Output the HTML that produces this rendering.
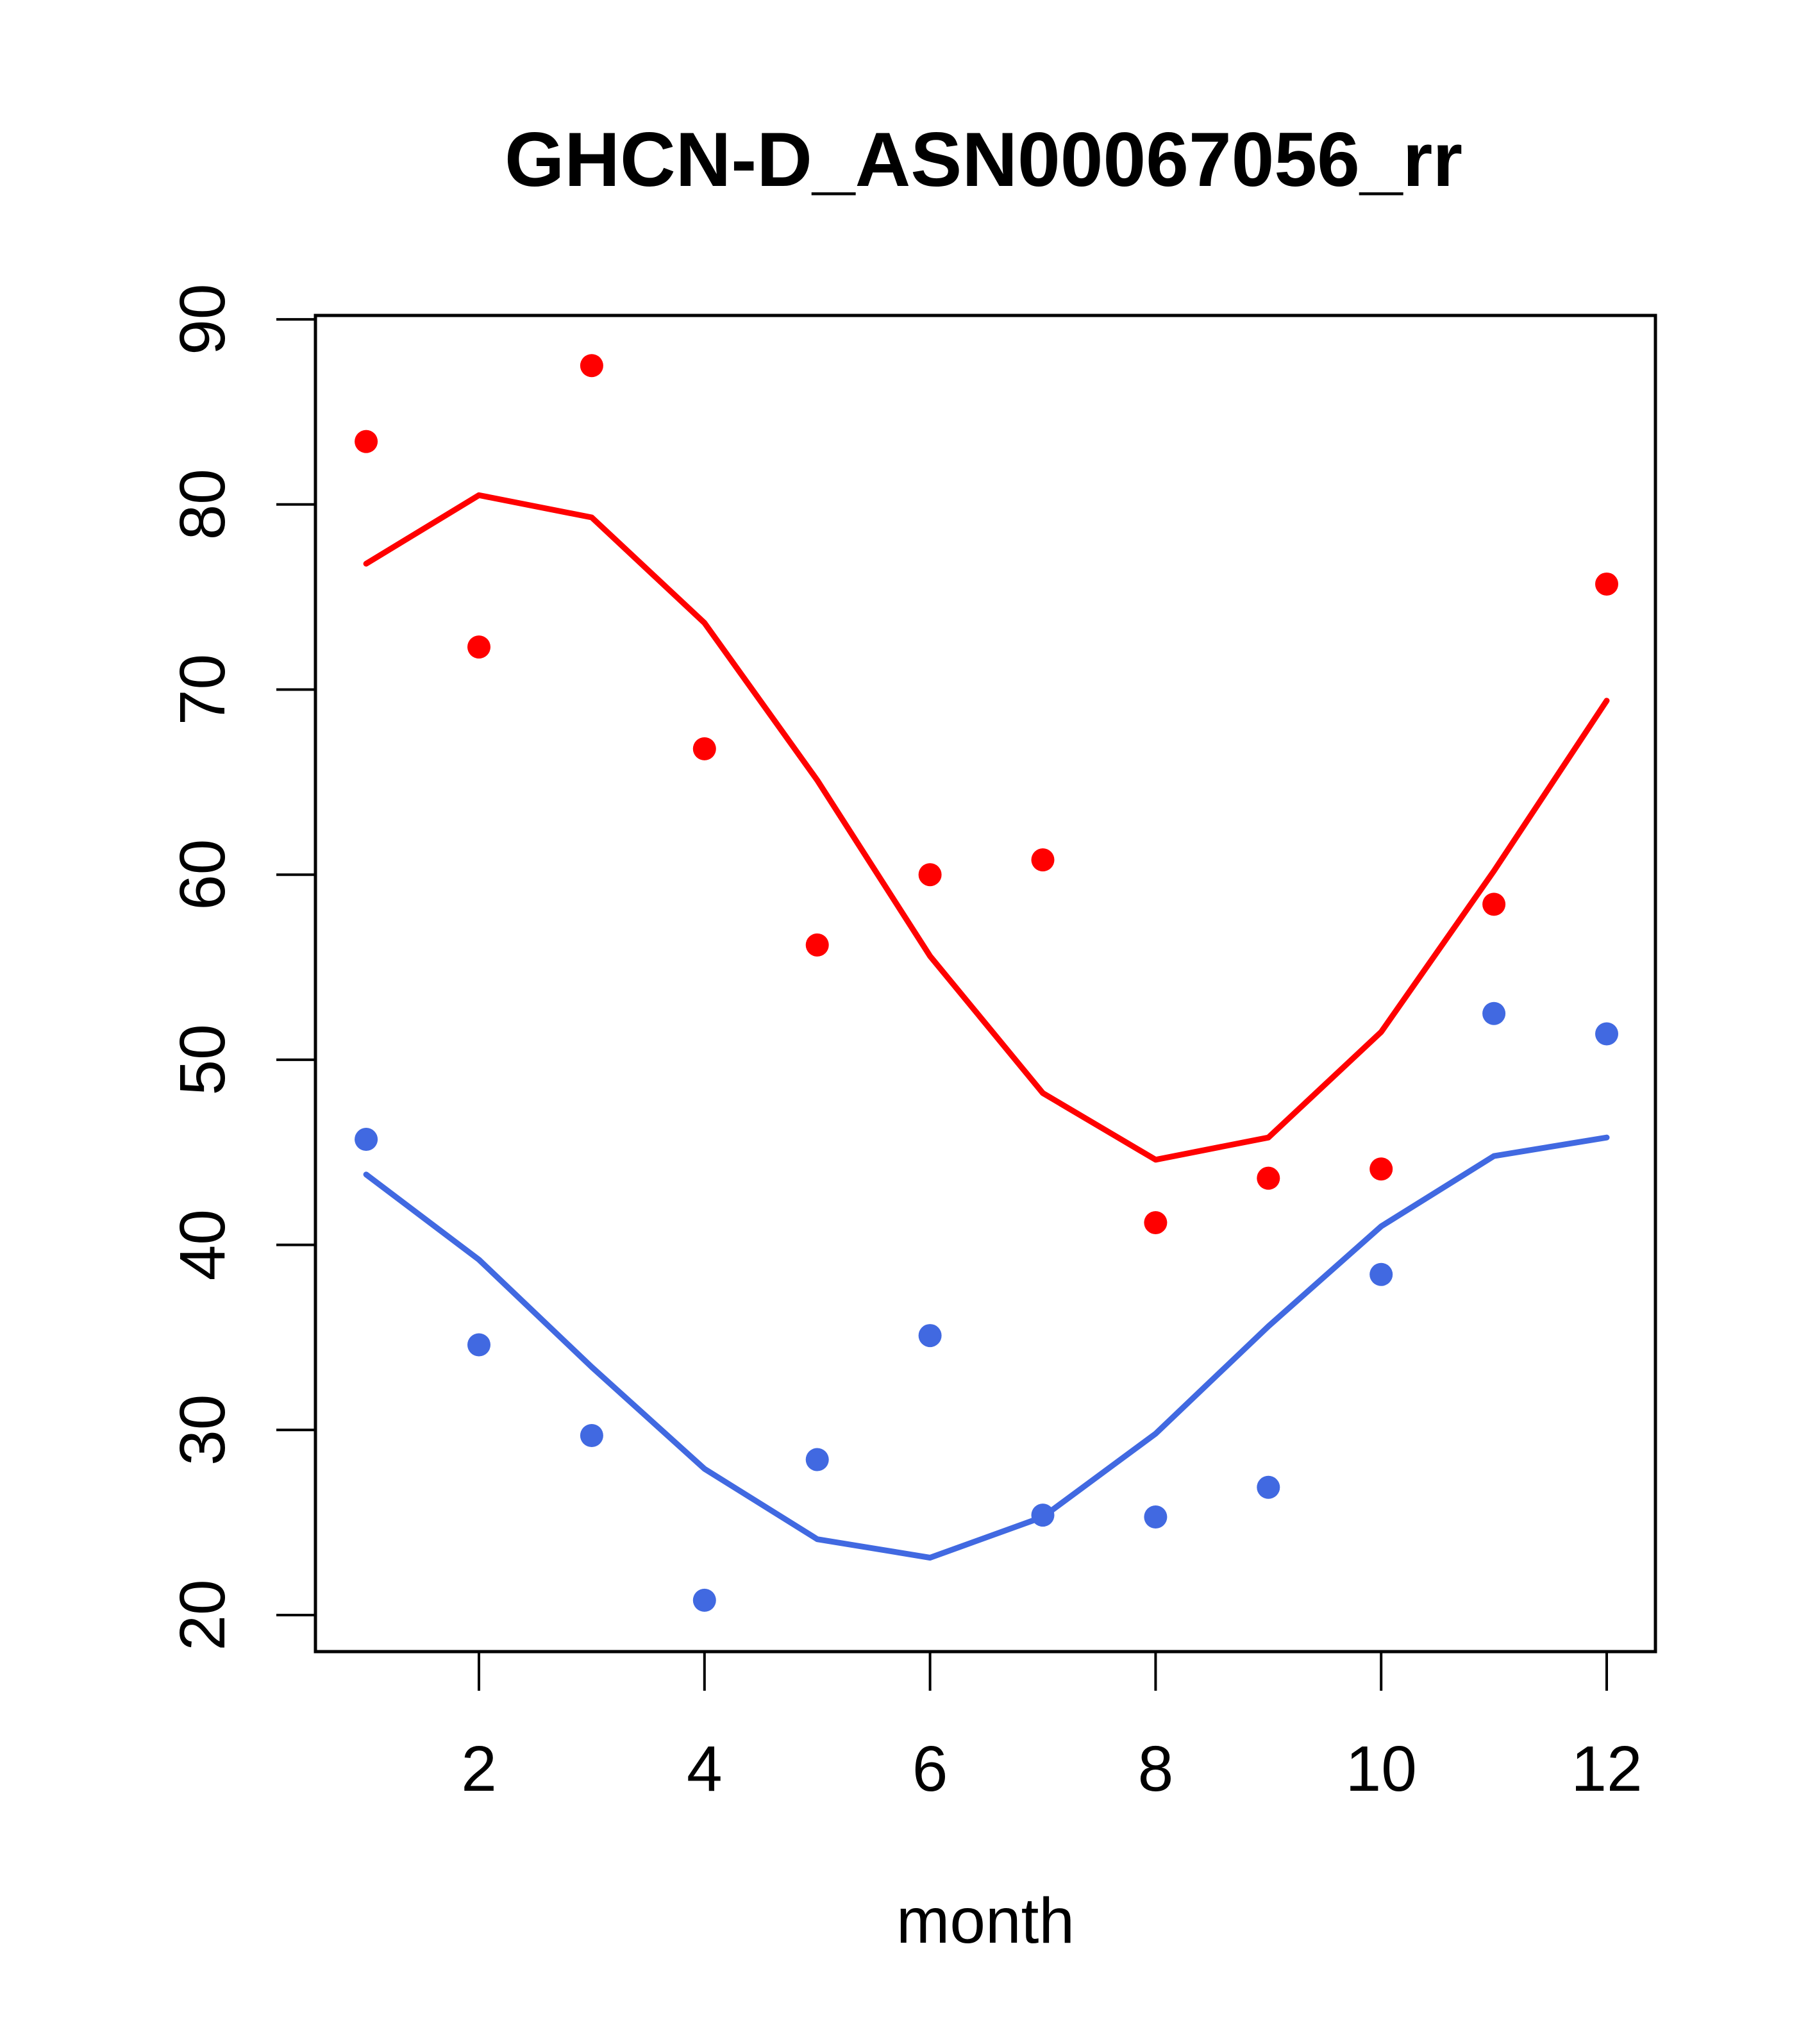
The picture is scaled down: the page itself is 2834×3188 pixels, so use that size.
<!DOCTYPE html>
<html><head><meta charset="utf-8"><style>
html,body{margin:0;padding:0;background:#fff;}
svg{display:block;font-family:"Liberation Sans",sans-serif;}
</style></head><body>
<svg id="chart" width="2834" height="3188" viewBox="0 0 2834 3188" xmlns="http://www.w3.org/2000/svg">
<rect width="2834" height="3188" fill="#fff"/>
<text x="1534" y="290" font-size="120" font-weight="bold" text-anchor="middle">GHCN-D_ASN00067056_rr</text>
<text x="1537" y="3030" font-size="100" text-anchor="middle">month</text>
<g id="marks"></g>
<rect x="492" y="492" width="2090" height="2084" fill="none" stroke="#000" stroke-width="5"/>
</svg>
<script>
const months = [1,2,3,4,5,6,7,8,9,10,11,12];
const redPoints = [83.4,72.3,87.5,66.8,56.2,60.0,60.8,41.2,43.6,44.1,58.4,75.7];
const redLine = [76.8,80.5,79.3,73.6,65.1,55.6,48.2,44.6,45.8,51.5,60.2,69.4];
const bluePoints = [45.7,34.6,29.7,20.8,28.4,35.1,25.4,25.3,26.9,38.4,52.5,51.4];
const blueLine = [43.8,39.2,33.4,27.9,24.1,23.1,25.3,29.8,35.6,41.0,44.8,45.8];
const xTicks = [2,4,6,8,10,12];
const yTicks = [20,30,40,50,60,70,80,90];

const NS = "http://www.w3.org/2000/svg";
function xs(m){ return 747 + (m-2)*175.9; }
function ys(v){ return 2519 - (v-20)*28.87; }
const g = document.getElementById('marks');
function mk(tag, attrs, parent){
  const e = document.createElementNS(NS, tag);
  for (const k in attrs) e.setAttribute(k, attrs[k]);
  (parent||g).appendChild(e);
  return e;
}
xTicks.forEach(t=>{
  const l = mk('line',{x1:xs(t),x2:xs(t),y1:2576,y2:2637,stroke:'#000','stroke-width':4});
  
  
  const tx = mk('text',{x:xs(t),y:2793,'font-size':100,'text-anchor':'middle'});
  tx.textContent = t;
  
  
});
yTicks.forEach(t=>{
  const l = mk('line',{x1:431,x2:492,y1:ys(t),y2:ys(t),stroke:'#000','stroke-width':4});
  
  
  const tx = mk('text',{x:0,y:0,'font-size':100,'text-anchor':'middle',transform:'translate(350,'+ys(t)+') rotate(-90)'});
  tx.textContent = t;
  
  
});
function line(vals, color, name){
  const p = mk('polyline',{points: months.map((m,i)=>xs(m)+','+ys(vals[i])).join(' '), fill:'none', stroke:color, 'stroke-width':9, 'stroke-linejoin':'round', 'stroke-linecap':'round'});
  
  
}
function dots(vals, color, name){
  months.forEach((m,i)=>{
    const c = mk('circle',{cx:xs(m),cy:ys(vals[i]),r:18,fill:color});
    
    
  });
}
line(redLine,'#ff0000','red-line');
line(blueLine,'#4169e1','blue-line');
dots(redPoints,'#ff0000','red-point');
dots(bluePoints,'#4169e1','blue-point');
</script>
</body></html>
